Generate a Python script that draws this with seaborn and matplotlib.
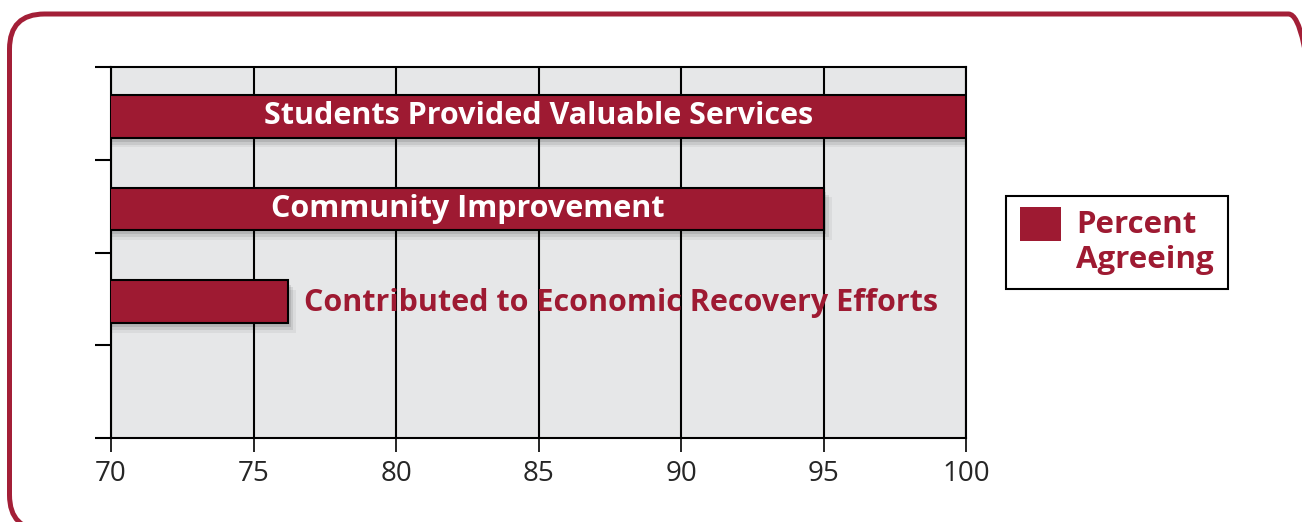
import matplotlib
matplotlib.use("Agg")
import matplotlib.pyplot as plt
import matplotlib.patheffects as pe
from matplotlib.patches import FancyBboxPatch, Patch, Rectangle
from matplotlib.legend_handler import HandlerPatch
from matplotlib.transforms import IdentityTransform
import pandas as pd
import seaborn as sns

# survey items, top to bottom, and share of respondents agreeing (%)
categories = [
    "Students Provided Valuable Services",
    "Community Improvement",
    "Contributed to Economic Recovery Efforts",
]
percent_agreeing = [100, 95, 76.2]
x_ticks = [70, 75, 80, 85, 90, 95, 100]
legend_label = "Percent\nAgreeing"

RED = "#9e1a32"
GREY = "#e6e7e8"
FS = 22

sns.set_style("white")
plt.rcParams["font.family"] = ["Open Sans", "DejaVu Sans"]

df = pd.DataFrame({"Item": categories, "Percent": percent_agreeing})

fig = plt.figure(figsize=(13.02, 5.22), dpi=100)
ax = fig.add_axes([0.0853, 0.161, 0.6567, 0.7103])
ax.set_facecolor(GREY)
ax.set_axisbelow(True)

sns.barplot(data=df, x="Percent", y="Item", color=RED, saturation=1,
            width=0.46, edgecolor="black", linewidth=1.5, ax=ax)

# soft drop shadow under the bars
shadow = [
    pe.SimplePatchShadow(offset=(2, -3), shadow_rgbFace="black", alpha=0.10),
    pe.SimplePatchShadow(offset=(4, -5), shadow_rgbFace="black", alpha=0.08),
    pe.SimplePatchShadow(offset=(6, -7), shadow_rgbFace="black", alpha=0.05),
    pe.Normal(),
]
for bar in ax.patches:
    bar.set_path_effects(shadow)
    bar.set_zorder(3)

# axes, ticks and grid
ax.set_xlim(70, 100)
ax.set_xticks(x_ticks)
ax.set_ylim(3.47, -0.53)
ax.set_yticks([-0.53, 0.47, 1.47, 2.47, 3.47])
ax.set_yticklabels([])
ax.set_xlabel("")
ax.set_ylabel("")
ax.xaxis.grid(True, color="black", linewidth=1.5)
ax.yaxis.grid(False)
for spine in ax.spines.values():
    spine.set_color("black")
    spine.set_linewidth(1.5)
ax.tick_params(axis="y", length=11.5, width=1.5, color="black", direction="out", left=True)
ax.tick_params(axis="x", length=10, width=1.2, color="black", direction="out",
               bottom=True, labelsize=20, pad=6)

# bar labels: white inside long bars, red next to short ones
for i, (name, val) in enumerate(zip(categories, percent_agreeing)):
    if val >= 90:
        ax.text((70 + val) / 2, i, name, color="white", fontsize=FS,
                fontweight="bold", ha="center", va="center", zorder=4)
    else:
        ax.annotate(name, (val, i), xytext=(12, -1), textcoords="offset points",
                    color=RED, fontsize=FS, fontweight="bold",
                    ha="left", va="center", zorder=4)


def top_square(legend, orig_handle, xdescent, ydescent, width, height, fontsize):
    # legend swatch sits level with the first line of the label
    return Rectangle((-xdescent, -ydescent + 0.62 * fontsize), width, height)


leg = fig.legend(handles=[Patch(facecolor=RED, edgecolor="none", label=legend_label)],
                 handler_map={Patch: HandlerPatch(patch_func=top_square)},
                 loc="center left", bbox_to_anchor=(0.7727, 0.5354),
                 borderaxespad=0, frameon=True, fancybox=False, edgecolor="black",
                 framealpha=1, labelcolor=RED,
                 prop={"weight": "bold", "size": 22.5},
                 handlelength=1.3, handleheight=1.3, handletextpad=0.5,
                 borderpad=0.45, labelspacing=0.3)
leg.get_frame().set_linewidth(1.5)

# rounded red frame around the whole graphic
frame = FancyBboxPatch((9.5, -8), 1314, 516, boxstyle="round,pad=0,rounding_size=35",
                       transform=IdentityTransform(), fill=False,
                       edgecolor="#a31f37", linewidth=3.6)
fig.add_artist(frame)

fig.savefig("out.png", dpi=100)
